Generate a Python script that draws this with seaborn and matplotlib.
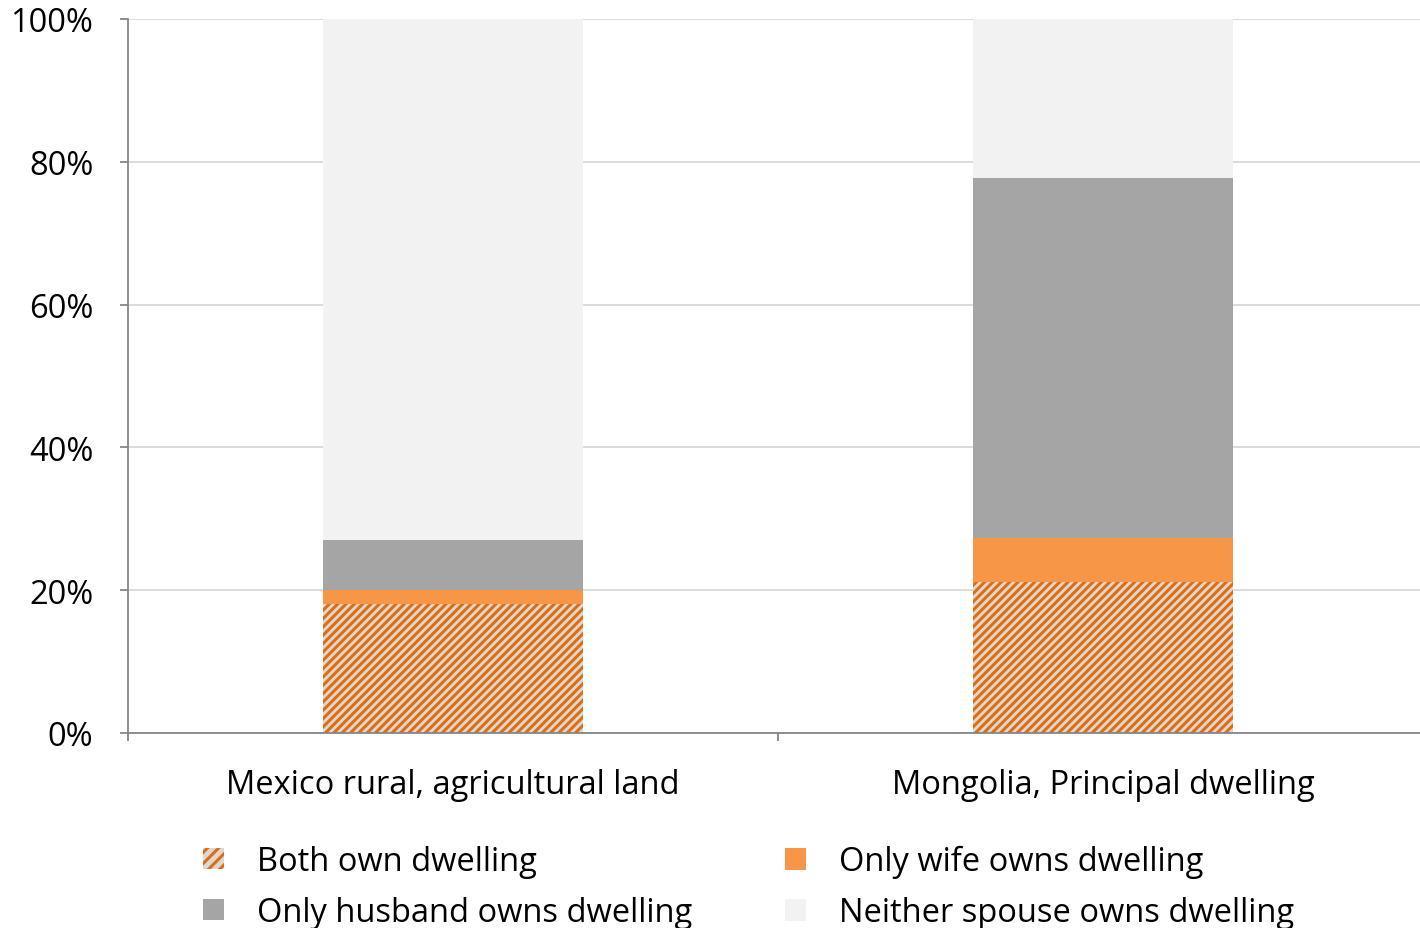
import matplotlib
matplotlib.use("Agg")
import matplotlib.pyplot as plt
import matplotlib.patches as mpatches
from matplotlib.ticker import FixedLocator, PercentFormatter
import seaborn as sns
import pandas as pd
import numpy as np

# Shares of couples by who owns the dwelling / land (%)
categories = ["Mexico rural, agricultural land", "Mongolia, Principal dwelling"]
both_own = [18.1, 21.1]
only_wife = [1.9, 6.2]
only_husband = [7.0, 50.4]
neither = [73.0, 22.3]

series_labels = ["Both own dwelling", "Only wife owns dwelling",
                 "Only husband owns dwelling", "Neither spouse owns dwelling"]
y_ticks = [0, 20, 40, 60, 80, 100]

sns.set_theme(style="white")
plt.rcParams["font.family"] = ["Open Sans", "DejaVu Sans"]
plt.rcParams["hatch.linewidth"] = 2.2

FS = 23.5
C_HATCH_BG = "#d9d9d9"
C_HATCH = "#e46c0a"
C_WIFE = "#f79646"
C_HUSB = "#a5a5a5"
C_NEITHER = "#f2f2f2"
HATCH = "////"

fig = plt.figure(figsize=(14.2, 9.29), dpi=100)
# Plot area runs past the right edge of the canvas
ax = fig.add_axes([128 / 1420, 1 - 734 / 929, 1300 / 1420, (734 - 20) / 929])

# Stack by drawing cumulative totals, largest first
b = np.array(both_own)
w = b + np.array(only_wife)
h = w + np.array(only_husband)
n = h + np.array(neither)
layers = [(n, C_NEITHER, None, C_NEITHER),
          (h, C_HUSB, None, C_HUSB),
          (w, C_WIFE, None, C_WIFE),
          (b, C_HATCH_BG, HATCH, C_HATCH)]

for vals, fc, hatch, ec in layers:
    df = pd.DataFrame({"cat": categories, "val": vals})
    sns.barplot(data=df, x="cat", y="val", ax=ax, color=fc, width=0.4,
                saturation=1, linewidth=0, edgecolor=ec, hatch=hatch, zorder=2)

for p in ax.patches:
    p.set_linewidth(0)

ax.set_xlim(-0.5, 1.5)
ax.set_ylim(0, 100)
ax.set_xlabel("")
ax.set_ylabel("")

ax.yaxis.set_major_locator(FixedLocator(y_ticks))
ax.yaxis.set_major_formatter(PercentFormatter(decimals=0))
ax.grid(axis="y", color="#d9d9d9", linewidth=1.3, zorder=0)
ax.set_axisbelow(True)

for s in ["top", "right"]:
    ax.spines[s].set_visible(False)
for s in ["left", "bottom"]:
    ax.spines[s].set_color("#868686")
    ax.spines[s].set_linewidth(1.3)

ax.tick_params(axis="y", which="major", left=True, length=6, width=1.3,
               color="#868686", labelsize=FS, pad=19, labelcolor="#000000")

# Category labels on minor ticks, boundary tick marks on major ticks
ax.set_xticks([-0.5, 0.5, 1.5])
ax.set_xticklabels([])
ax.set_xticks([0, 1], minor=True)
ax.set_xticklabels(categories, minor=True)
ax.tick_params(axis="x", which="major", bottom=True, length=6, width=1.3,
               color="#868686")
ax.tick_params(axis="x", which="minor", bottom=False, length=0, labelsize=FS,
               pad=25, labelcolor="#000000")

col1 = [
    mpatches.Patch(facecolor=C_HATCH_BG, edgecolor=C_HATCH, hatch="///", linewidth=0,
                   label=series_labels[0]),
    mpatches.Patch(facecolor=C_HUSB, linewidth=0, label=series_labels[2]),
]
col2 = [
    mpatches.Patch(facecolor=C_WIFE, linewidth=0, label=series_labels[1]),
    mpatches.Patch(facecolor=C_NEITHER, linewidth=0, label=series_labels[3]),
]
leg_kw = dict(loc="center left", frameon=False, fontsize=FS, labelcolor="#000000",
              handlelength=0.65, handleheight=0.65, handletextpad=1.0,
              labelspacing=0.55, borderpad=0, borderaxespad=0)
fig.legend(handles=col1, bbox_to_anchor=(203 / 1420, 1 - 888 / 929), **leg_kw)
fig.legend(handles=col2, bbox_to_anchor=(785 / 1420, 1 - 888 / 929), **leg_kw)

fig.savefig("out.png", dpi=100)
